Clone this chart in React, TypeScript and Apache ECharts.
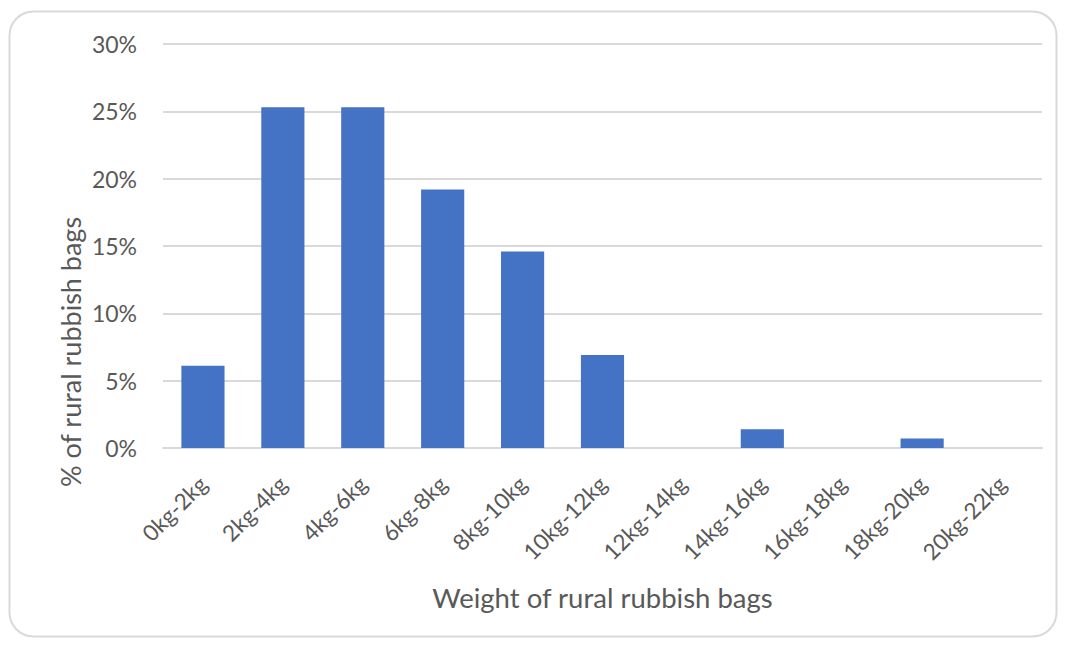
import React, { useEffect, useRef } from "react";
import * as echarts from "echarts";

const categories = ["0kg-2kg", "2kg-4kg", "4kg-6kg", "6kg-8kg", "8kg-10kg", "10kg-12kg", "12kg-14kg", "14kg-16kg", "16kg-18kg", "18kg-20kg", "20kg-22kg"];
const percentages = [6.1, 25.3, 25.3, 19.2, 14.6, 6.9, 0, 1.4, 0, 0.7, 0];
const yTicks = { min: 0, max: 30, interval: 5 };
const xTitle = "Weight of rural rubbish bags";
const yTitle = "% of rural rubbish bags";

export default function App() {
  const ref = useRef<HTMLDivElement>(null);
  useEffect(() => {
    const chart = echarts.init(ref.current!, undefined, { renderer: "svg" });
    const font = "Lato, 'Open Sans', sans-serif";
    chart.setOption({
      animation: false,
      backgroundColor: "#ffffff",
      graphic: [
        {
          type: "rect",
          shape: { x: 9.5, y: 11.5, width: 1047, height: 625, r: 24 },
          style: { fill: "none", stroke: "#d9d9d9", lineWidth: 2 },
          silent: true,
        },
        {
          type: "text",
          x: 70,
          y: 352,
          rotation: Math.PI / 2,
          style: {
            text: yTitle,
            fontFamily: font,
            fontSize: 27,
            fill: "#595959",
            textAlign: "center",
            textVerticalAlign: "middle",
          },
          silent: true,
        },
      ],
      grid: { left: 163, right: 25, top: 44, bottom: 198, containLabel: false },
      xAxis: {
        type: "category",
        data: categories,
        name: xTitle,
        nameLocation: "middle",
        nameGap: 135,
        nameTextStyle: { fontFamily: font, fontSize: 27.5, color: "#595959" },
        axisLine: { show: true, lineStyle: { color: "#d9d9d9", width: 2 } },
        axisTick: { show: false },
        axisLabel: { rotate: 45, fontFamily: font, fontSize: 22.5, color: "#595959", margin: 32, interval: 0 },
      },
      yAxis: {
        type: "value",
        min: yTicks.min,
        max: yTicks.max,
        interval: yTicks.interval,
        axisLine: { show: false },
        axisTick: { show: false },
        axisLabel: { formatter: "{value}%", fontFamily: font, fontSize: 23, color: "#595959", margin: 26 },
        splitLine: { lineStyle: { color: "#d9d9d9", width: 2 } },
      },
      series: [
        {
          type: "bar",
          data: percentages,
          barWidth: "54%",
          itemStyle: { color: "#4472c4" },
        },
      ],
    });
    return () => chart.dispose();
  }, []);
  return <div ref={ref} style={{ position: "fixed", left: 0, top: 0, width: 1067, height: 646 }} />;
}
